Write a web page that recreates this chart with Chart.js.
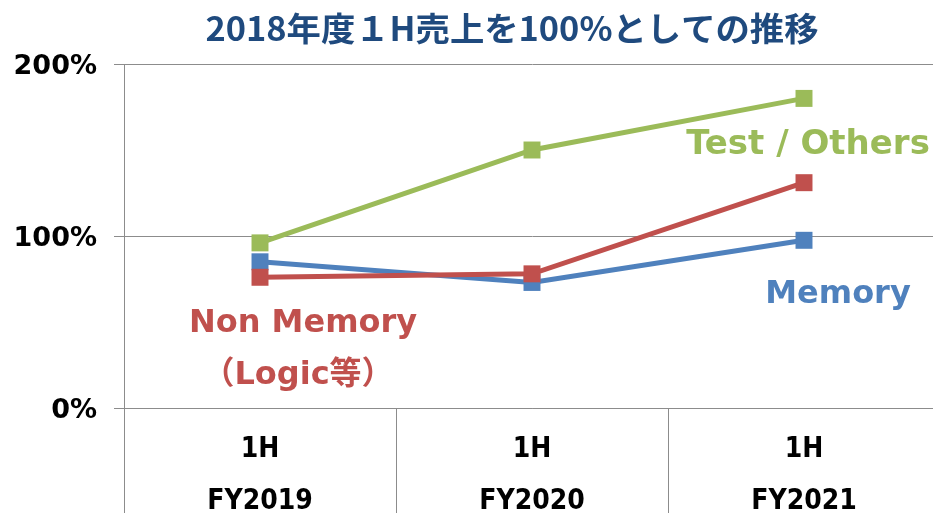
<!DOCTYPE html>
<html>
<head>
<meta charset="utf-8">
<script src="https://cdn.jsdelivr.net/npm/chart.js@4"></script>
<style>
  html, body { margin: 0; padding: 0; background: #fff; overflow: hidden; }
  #wrap { width: 952px; height: 513px; position: relative; }
</style>
</head>
<body>
<div id="wrap"><canvas id="lineChart"></canvas></div>
<script>
// Data
const categories = [['1H', 'FY2019'], ['1H', 'FY2020'], ['1H', 'FY2021']];
const testOthers = [96, 150, 180];
const nonMemory = [76, 78, 131];
const memory = [85, 73, 97.5];
const yTicks = [0, 100, 200];

const titleText = '2018年度１H売上を100%としての推移';

// Text labels drawn onto the canvas
const textPlugin = {
    id: 'textLabels',
    afterDraw(chart) {
        const ctx = chart.ctx;
        ctx.save();
        ctx.textAlign = 'center';
        ctx.textBaseline = 'middle';
        ctx.fillStyle = '#1F4A7E';
        ctx.font = 'bold 33px "Noto Sans CJK JP"';
        // stretch the title to the reference width
        const w = ctx.measureText(titleText).width;
        ctx.save();
        ctx.translate(512, 28);
        ctx.scale(613 / w, 1);
        ctx.fillText(titleText, 0, 0);
        ctx.restore();

        ctx.textBaseline = 'alphabetic';
        ctx.font = 'bold 34px "DejaVu Sans", "Noto Sans CJK JP"';
        ctx.fillStyle = '#9BBB59';
        ctx.fillText('Test / Others', 808, 154);
        ctx.font = 'bold 32px "DejaVu Sans", "Noto Sans CJK JP"';
        ctx.fillStyle = '#4F81BD';
        ctx.fillText('Memory', 838, 303);
        ctx.fillStyle = '#C0504D';
        ctx.fillText('Non Memory', 303, 332);
        ctx.fillText('（Logic等）', 298, 384);
        ctx.restore();
    }
};

const data = {
    labels: categories,
    datasets: [
        { label: 'Test / Others', data: testOthers, borderColor: '#9BBB59', backgroundColor: '#9BBB59' },
        { label: 'Non Memory', data: nonMemory, borderColor: '#C0504D', backgroundColor: '#C0504D' },
        { label: 'Memory', data: memory, borderColor: '#4F81BD', backgroundColor: '#4F81BD' }
    ].map(d => Object.assign(d, {
        borderWidth: 5,
        tension: 0,
        pointStyle: 'rect',
        pointRadius: 12,
        pointHoverRadius: 12,
        pointBorderWidth: 0
    }))
};

const config = {
    type: 'line',
    data,
    options: {
        responsive: true,
        maintainAspectRatio: false,
        animation: false,
        events: [],
        layout: { padding: { top: 64, left: 0, right: 0, bottom: 0 } },
        plugins: {
            legend: { display: false },
            tooltip: { enabled: false },
            title: { display: false }
        },
        scales: {
            x: {
                offset: true,
                grid: {
                    offset: true,
                    drawOnChartArea: false,
                    tickLength: 105,
                    color: '#8c8c8c'
                },
                border: { color: '#8c8c8c' },
                ticks: {
                    padding: -89,
                    color: '#000',
                    font: { family: '"DejaVu Sans Condensed"', weight: 'bold', size: 28, lineHeight: '52px' }
                },
                afterFit(scale) { scale.height = 105; }
            },
            y: {
                min: 0,
                max: 200,
                afterBuildTicks(scale) { scale.ticks = yTicks.map(v => ({ value: v })); },
                grid: { color: '#8c8c8c', tickLength: 10 },
                border: { color: '#8c8c8c' },
                ticks: {
                    padding: 17,
                    labelOffset: 3,
                    color: '#000',
                    font: { family: '"DejaVu Sans"', weight: 'bold', size: 27 },
                    callback: v => v + '%'
                },
                afterFit(scale) { scale.width = 124; }
            }
        }
    },
    plugins: [textPlugin]
};

const lineChart = new Chart(document.getElementById('lineChart'), config);
</script>
</body>
</html>
